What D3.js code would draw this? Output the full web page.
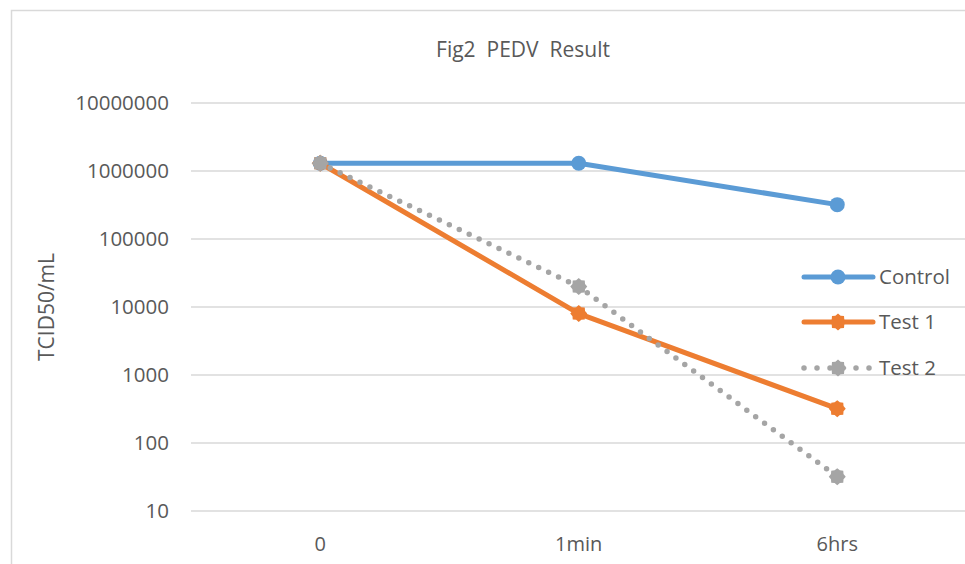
<!DOCTYPE html>
<html>
<head>
<meta charset="utf-8">
<script src="https://cdn.jsdelivr.net/npm/d3@7"></script>
<style>
  body { margin: 0; background: #fff; }
  text { font-family: "Open Sans", "Liberation Sans", sans-serif; fill: #595959; }
</style>
</head>
<body>
<svg></svg>
<script>
//chart data
const categories = ["0", "1min", "6hrs"];
const seriesNames = ["Control", "Test 1", "Test 2"];
const control = [1300000, 1300000, 320000];
const test1 = [1300000, 8000, 320];
const test2 = [1300000, 20000, 32];
const yTicks = [10, 100, 1000, 10000, 100000, 1000000, 10000000];

const width = 965;
const height = 564;

const svg = d3.select("svg")
  .attr("width", width)
  .attr("height", height);

//outer frame (only left and top visible)
svg.append("path")
  .attr("d", "M11.5,564 V10.5 H965")
  .attr("fill", "none")
  .attr("stroke", "#d9d9d9")
  .attr("stroke-width", 1.5);

//scales
const x = d3.scaleBand()
  .domain(categories)
  .range([191, 966.5]);

const y = d3.scaleLog()
  .domain([10, 10000000])
  .range([511, 103]);

//gridlines
svg.selectAll("line.grid")
  .data(yTicks)
  .enter().append("line")
  .attr("class", "grid")
  .attr("x1", 191)
  .attr("x2", 966)
  .attr("y1", d => y(d))
  .attr("y2", d => y(d))
  .attr("stroke", "#d9d9d9")
  .attr("stroke-width", 1.5);

//y tick labels
svg.selectAll("text.ytick")
  .data(yTicks)
  .enter().append("text")
  .attr("class", "ytick")
  .attr("x", 169)
  .attr("y", d => y(d))
  .attr("dy", "0.35em")
  .attr("text-anchor", "end")
  .attr("font-size", 20.5)
  .text(d => d3.format("d")(d));

//x tick labels
svg.selectAll("text.xtick")
  .data(categories)
  .enter().append("text")
  .attr("class", "xtick")
  .attr("x", d => x(d) + x.bandwidth() / 2)
  .attr("y", 544)
  .attr("dy", "0.35em")
  .attr("text-anchor", "middle")
  .attr("font-size", 20)
  .text(d => d);

//title
svg.append("text")
  .attr("x", 523)
  .attr("y", 50)
  .attr("dy", "0.35em")
  .attr("text-anchor", "middle")
  .attr("font-size", 21)
  .attr("xml:space", "preserve")
  .text("Fig2  PEDV  Result");

//y axis title
svg.append("text")
  .attr("transform", "translate(47,307) rotate(-90)")
  .attr("dy", "0.35em")
  .attr("text-anchor", "middle")
  .attr("font-size", 21)
  .text("TCID50/mL");

//series
const cx = (d, i) => x(categories[i]) + x.bandwidth() / 2;
const line = d3.line()
  .x(cx)
  .y(d => y(d));

//gear-like star marker
function gear(r1, r2) {
  const pts = [];
  for (let k = 0; k < 16; k++) {
    const a = k * Math.PI / 8;
    const r = k % 2 === 0 ? r1 : r2;
    pts.push([r * Math.sin(a), -r * Math.cos(a)]);
  }
  return "M" + pts.map(p => p.join(",")).join("L") + "Z";
}

const series = [
  {name: seriesNames[0], values: control, color: "#5B9BD5", dash: null, marker: "circle"},
  {name: seriesNames[1], values: test1, color: "#ED7D31", dash: null, marker: "gear"},
  {name: seriesNames[2], values: test2, color: "#A5A5A5", dash: "0 11", marker: "gear"}
];

series.forEach(s => {
  svg.append("path")
    .datum(s.values)
    .attr("d", line)
    .attr("fill", "none")
    .attr("stroke", s.color)
    .attr("stroke-width", s.dash ? 5.5 : 5)
    .attr("stroke-linecap", "round")
    .attr("stroke-linejoin", "round")
    .attr("stroke-dasharray", s.dash);

  s.values.forEach((v, i) => {
    if (s.marker === "circle") {
      svg.append("circle")
        .attr("cx", cx(v, i))
        .attr("cy", y(v))
        .attr("r", 7.5)
        .attr("fill", s.color);
    } else {
      svg.append("path")
        .attr("d", gear(8.5, 6.8))
        .attr("transform", `translate(${cx(v, i)},${y(v)})`)
        .attr("fill", s.color);
    }
  });
});

//legend
const legendY = [277, 322, 368];
series.forEach((s, i) => {
  const g = svg.append("g").attr("transform", `translate(0,${legendY[i]})`);
  g.append("line")
    .attr("x1", 804)
    .attr("x2", 873)
    .attr("stroke", s.color)
    .attr("stroke-width", s.dash ? 5.5 : 5)
    .attr("stroke-linecap", "round")
    .attr("stroke-dasharray", s.dash ? "0 13" : null);
  if (s.marker === "circle") {
    g.append("circle").attr("cx", 838).attr("r", 7.5).attr("fill", s.color);
  } else {
    g.append("path").attr("d", gear(8.5, 6.8)).attr("transform", "translate(838,0)").attr("fill", s.color);
  }
  g.append("text")
    .attr("x", 879)
    .attr("dy", "0.35em")
    .attr("font-size", 20.5)
    .text(s.name);
});
</script>
</body>
</html>
